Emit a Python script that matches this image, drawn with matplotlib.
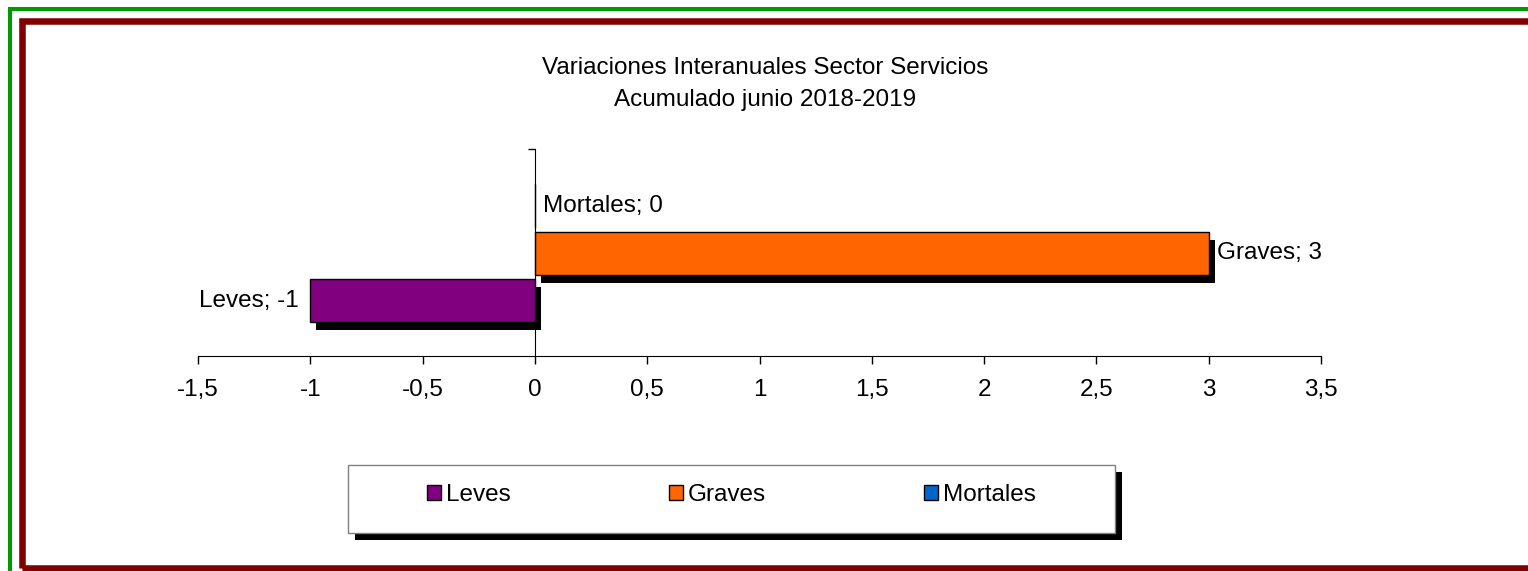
import matplotlib.pyplot as plt
import matplotlib.patheffects as pe
from matplotlib.patches import Rectangle
import numpy as np

plt.rcParams['font.family'] = ['Liberation Sans', 'DejaVu Sans']

series = ['Leves', 'Graves', 'Mortales']
values = [-1, 3, 0]
colors = ['#800080', '#FF6600', '#0066CC']
xticks = [-1.5, -1, -0.5, 0, 0.5, 1, 1.5, 2, 2.5, 3, 3.5]

W, H = 1528, 571
FS = 17.5
fig = plt.figure(figsize=(W / 100, H / 100), dpi=100)


def px(x0, y0, x1, y1):
    # pixel box (top-left origin) -> figure fraction rect
    return [x0 / W, 1 - y1 / H, (x1 - x0) / W, (y1 - y0) / H]


# outer frames
fig.add_artist(Rectangle((10 / W, 1 - 580 / H), 1540 / W, 571 / H, transform=fig.transFigure,
                         fill=False, edgecolor='#009900', linewidth=2.9))
fig.add_artist(Rectangle((22 / W, 1 - 567.5 / H), 1530 / W, 546.5 / H, transform=fig.transFigure,
                         fill=False, edgecolor='#800000', linewidth=4.7))

fig.text(765 / W, 1 - 68 / H, 'Variaciones Interanuales Sector Servicios', ha='center', va='center', fontsize=FS)
fig.text(765 / W, 1 - 100 / H, 'Acumulado junio 2018-2019', ha='center', va='center', fontsize=FS)

ax = fig.add_axes(px(198, 149, 1321, 356))
ax.set_xlim(-1.5, 3.5)
ax.set_ylim(-0.5, 0.5)

shadow = [pe.SimplePatchShadow(offset=(4.3, -5.8), shadow_rgbFace='black', alpha=1), pe.Normal()]
offsets = [-0.232, -0.004, 0.224]
bars = []
for name, v, c, off in zip(series, values, colors, offsets):
    b = ax.barh(off, v, height=0.21, color=c, edgecolor='black', linewidth=1, label=name)
    bars.append(b)
    if v < 0:
        ax.annotate(f'{name}; {v}', (v, off), xytext=(-8, 0), textcoords='offset points',
                    ha='right', va='center', fontsize=FS)
    else:
        ax.annotate(f'{name}; {v}', (v, off), xytext=(6, 0), textcoords='offset points',
                    ha='left', va='center', fontsize=FS)

ax.spines['top'].set_visible(False)
ax.spines['right'].set_visible(False)
ax.spines['left'].set_position(('data', 0))
ax.set_yticks([0.5])
ax.set_yticklabels([])
ax.tick_params(axis='y', direction='out', length=5, width=1)
ax.set_xticks(xticks)
ax.set_xticklabels([('%g' % t).replace('.', ',') for t in xticks], fontsize=FS)
ax.tick_params(axis='x', direction='out', length=5.8, width=1, pad=11)

# legend box with hard shadow
fig.add_artist(Rectangle((355 / W, 1 - 540 / H), 767 / W, 68 / H, transform=fig.transFigure,
                         facecolor='black', edgecolor='none'))
fig.add_artist(Rectangle((348 / W, 1 - 533 / H), 767 / W, 68 / H, transform=fig.transFigure,
                         facecolor='white', edgecolor='#808080', linewidth=1))
handles, labels = ax.get_legend_handles_labels()
leg = fig.legend(handles, labels, ncol=3, loc='center left', bbox_to_anchor=(415 / W, 1 - 495 / H),
                 frameon=False, fontsize=FS, borderpad=0, handlelength=0.58, handleheight=0.62,
                 handletextpad=0.2, columnspacing=6.5)

# shadows only on the plotted bars, not the legend keys
for b, v in zip(bars, values):
    if v != 0:
        b[0].set_path_effects(shadow)

fig.savefig('out.png', dpi=100)
